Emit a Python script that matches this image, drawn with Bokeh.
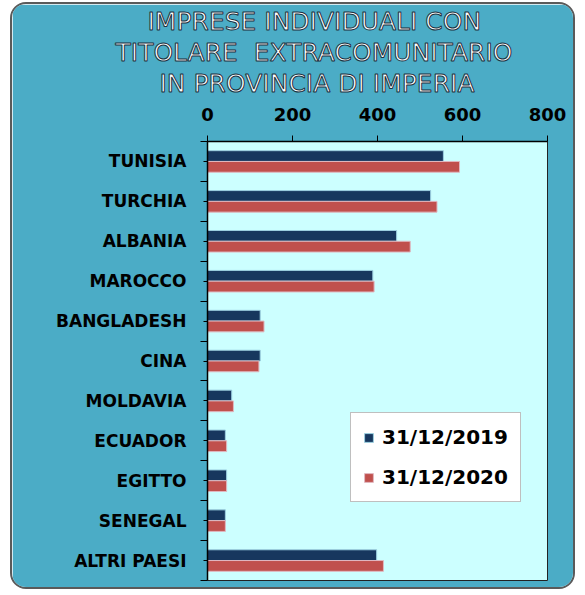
from bokeh.plotting import figure
from bokeh.models import Range1d, FixedTicker, Title, Legend, LegendItem, ColumnDataSource
from bokeh.embed import file_html
from bokeh.resources import INLINE

# ---- data ----
categories = ["TUNISIA", "TURCHIA", "ALBANIA", "MAROCCO", "BANGLADESH", "CINA",
              "MOLDAVIA", "ECUADOR", "EGITTO", "SENEGAL", "ALTRI PAESI"]
v2019 = [555, 525, 445, 389, 124, 124, 57, 42, 45, 42, 398]
v2020 = [593, 540, 477, 392, 133, 121, 61, 45, 45, 42, 414]
x_ticks = [0, 200, 400, 600, 800]
series_labels = ["31/12/2019", "31/12/2020"]
title_lines = ["IMPRESE INDIVIDUALI CON", "TITOLARE\u00a0 EXTRACOMUNITARIO", "IN PROVINCIA DI IMPERIA"]

n = len(categories)
idx = list(range(n))
off = 0.135
src = ColumnDataSource(dict(
    y19=[i - off for i in idx], y20=[i + off for i in idx],
    v19=v2019, v20=v2020, cat=categories))

p = figure(width=565, height=587,
           x_range=Range1d(0, 800), y_range=Range1d(n - 0.5, -0.5),
           x_axis_location="above", output_backend="svg", toolbar_location=None,
           title=None, min_border_left=195, min_border_right=30,
           min_border_top=136, min_border_bottom=11)

p.background_fill_color = "#CCFFFF"
p.border_fill_color = "#4BACC6"
p.outline_line_color = "#222222"
p.outline_line_width = 1
p.xgrid.visible = False
p.ygrid.visible = False
p.styles = {"border": "2px solid #5a5a5a", "border-radius": "16px",
            "overflow": "hidden", "margin-top": "2px", "margin-left": "10px"}

r19 = p.hbar(y="y19", left=0, right="v19", height=0.27, source=src,
             fill_color="#17375E", line_color="#9ccfe0", line_width=1)
r20 = p.hbar(y="y20", left=0, right="v20", height=0.27, source=src,
             fill_color="#C0504D", line_color="#e0b8c0", line_width=1)

# x axis (top)
xa = p.xaxis[0]
xa.ticker = FixedTicker(ticks=x_ticks)
xa.major_label_text_font = "DejaVu Sans"
xa.major_label_text_font_style = "bold"
xa.major_label_text_font_size = "18px"
xa.major_label_text_color = "black"
xa.major_tick_out = 6
xa.major_tick_in = 0
xa.minor_tick_out = 0
xa.minor_tick_in = 0
xa.axis_line_color = "black"
xa.axis_line_width = 1.5
xa.major_tick_line_color = "black"
xa.major_label_standoff = 15
xa.axis_label = " "
xa.axis_label_text_font_size = "1px"
xa.axis_label_standoff = 3

# y axis (categories)
ya = p.yaxis[0]
ya.ticker = FixedTicker(ticks=idx, minor_ticks=[i - 0.5 for i in idx] + [n - 0.5])
ya.major_label_overrides = {i: c for i, c in zip(idx, categories)}
ya.major_label_text_font = "DejaVu Sans"
ya.major_label_text_font_style = "bold"
ya.major_label_text_font_size = "17px"
ya.major_label_text_color = "black"
ya.major_tick_out = 4
ya.major_tick_in = 0
ya.minor_tick_out = 7
ya.minor_tick_in = 0
ya.axis_line_color = "black"
ya.axis_line_width = 1.5
ya.major_tick_line_color = "black"
ya.minor_tick_line_color = "black"
ya.major_label_standoff = 14

# title lines (added nearest-first), left-aligned with offsets from frame left
for t, ofs in zip(reversed(title_lines), [-48, -92, -60]):
    p.add_layout(Title(text=t, align="left", offset=ofs, standoff=0,
                       text_color="white", text_font="DejaVu Sans", text_font_size="25px",
                       text_font_style="normal", text_outline_color="#1c3140"), "above")

legend = Legend(items=[LegendItem(label=series_labels[0], renderers=[r19]),
                       LegendItem(label=series_labels[1], renderers=[r20])],
                location=(143, 78))
legend.label_text_font = "DejaVu Sans"
legend.label_text_font_style = "bold"
legend.label_text_font_size = "20px"
legend.label_text_color = "black"
legend.glyph_width = 11
legend.glyph_height = 11
legend.label_height = 24
legend.label_standoff = 8
legend.spacing = 16
legend.padding = 12
legend.margin = 0
legend.border_line_color = "#808080"
legend.border_line_width = 1.5
legend.background_fill_color = "white"
legend.background_fill_alpha = 1
p.add_layout(legend)

open("out.html", "w").write(file_html(p, INLINE))
